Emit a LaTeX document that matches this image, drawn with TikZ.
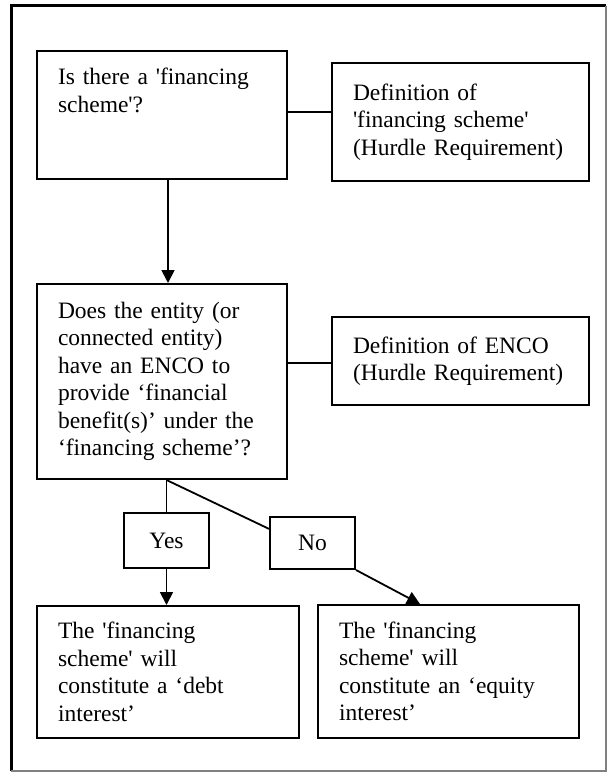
\documentclass[tikz,border=0pt]{standalone}
\usepackage{fontspec}
\setmainfont{Liberation Serif}
\usetikzlibrary{arrows.meta}
\newcommand{\sq}{\textquotesingle}
\begin{document}
\begin{tikzpicture}[x=1pt,y=-1pt]
\tikzstyle{every node}+=[font=\fontsize{23.5}{27.5}\selectfont]
\tikzstyle{box}=[draw, line width=2pt, inner xsep=21pt, inner ysep=0pt, align=left]
\tikzstyle{tag}=[draw, line width=2pt, fill=white, inner sep=0pt, minimum width=85pt]
\tikzstyle{link}=[line width=1.8pt]
\tikzstyle{tip}=[-{Triangle[length=13pt,width=13pt]}]
\useasboundingbox (0,0) rectangle (608,773);
\draw [line width=3pt] (11,771) -- (11,6) -- (606,6);
\draw [gray, line width=1.2pt] (606,6) -- (606,771) -- (11,771);
\node [box, text width=208pt, text height=34pt, text depth=94pt] (scheme) at (162,115) {Is there a \sq financing\\scheme\sq?};
\node [box, text width=215pt, minimum height=118pt] (schemedef) at (460.5,122) {Definition of\\\sq financing scheme\sq\\(Hurdle Requirement)};
\node [box, text width=208pt, minimum height=195pt] (enco) at (162,381.5) {Does the entity (or\\connected entity)\\have an ENCO to\\provide ‘financial\\benefit(s)’ under the\\‘financing scheme’?};
\node [box, text width=215pt, minimum height=88pt] (encodef) at (460.5,361) {Definition of ENCO\\(Hurdle Requirement)};
\node [tag, minimum height=55pt] (yes) at (166.5,540.5) {Yes};
\node [tag, minimum height=52pt] (no) at (312.5,543) {No};
\node [box, text width=220pt, minimum height=132pt] (debt) at (168,672) {The \sq financing\\scheme\sq\ will\\constitute a ‘debt\\interest’};
\node [box, text width=219pt, minimum height=133pt] (equity) at (448.5,671.5) {The \sq financing\\scheme\sq\ will\\constitute an ‘equity\\interest’};
\draw [link] ([yshift=3pt]scheme.east) -- ([yshift=10pt]schemedef.west);
\draw [link, tip] ([xshift=6pt]scheme.south) -- ([xshift=6pt]enco.north);
\draw [link] ([yshift=18.5pt]enco.east) -- ([yshift=-2pt]encodef.west);
\draw [link] (enco.south -| yes) -- (yes.north);
\draw [link, tip] (yes.south) -- (yes.south |- debt.north);
\draw [link] (enco.south -| yes) -- (no.162);
\draw [link, tip] (no.south east) -- ([xshift=-28.5pt]equity.north);
\end{tikzpicture}
\end{document}
